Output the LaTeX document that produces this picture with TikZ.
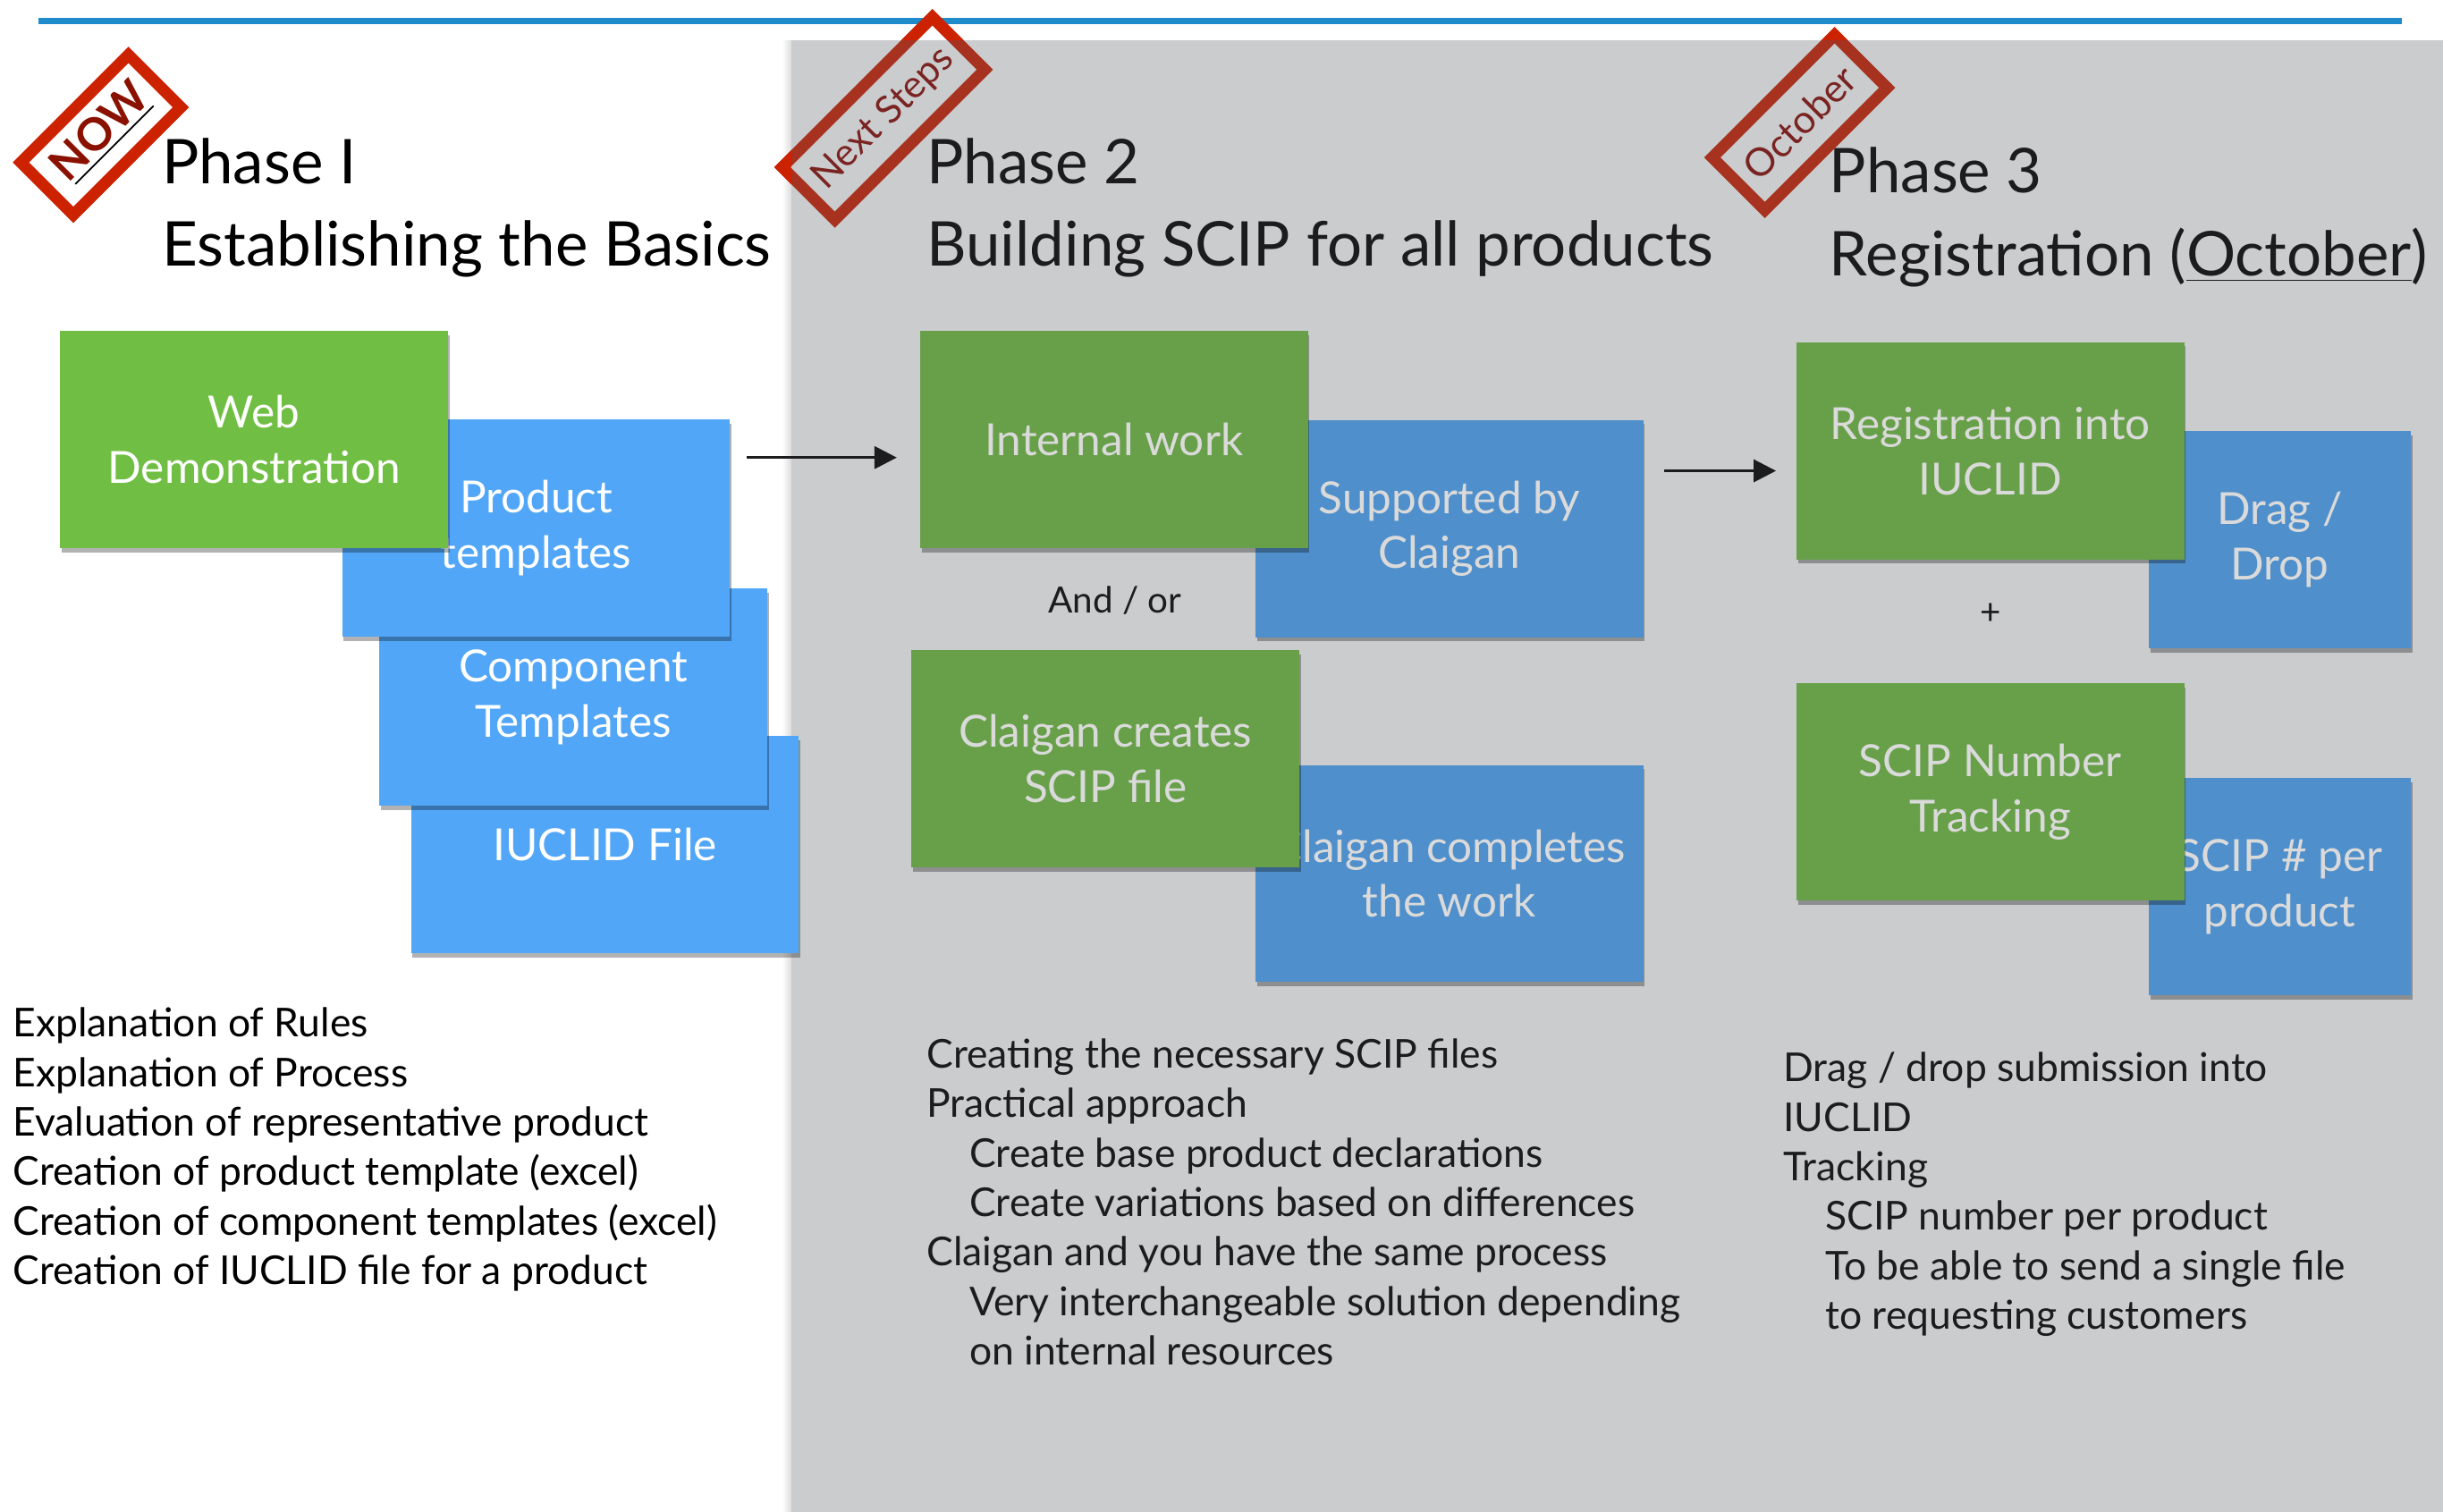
\documentclass[tikz,border=0pt]{standalone}
\usepackage{fontspec}
\setmainfont{Lato}
\usetikzlibrary{shadows,arrows.meta}
\definecolor{gA}{HTML}{70BF44}
\definecolor{bA}{HTML}{52A6F7}
\definecolor{gB}{HTML}{68A04A}
\definecolor{bB}{HTML}{4F8FCB}
\definecolor{panel}{HTML}{CBCCCE}
\definecolor{bar}{HTML}{1F8BCB}
\definecolor{stampred}{HTML}{CC2200}
\definecolor{stampdark}{HTML}{A6321F}
\definecolor{nowtext}{HTML}{8A1100}
\definecolor{stamptext}{HTML}{7A2422}
\definecolor{lighttxt}{HTML}{DADADA}
\definecolor{darktxt}{HTML}{1C1C1E}
\tikzset{
  boxbase/.style={rectangle, inner sep=0pt, minimum width=124.5pt, minimum height=69.7pt,
    align=center, font=\fontsize{14.2pt}{17.75pt}\selectfont,
    drop shadow={opacity=0.3, shadow xshift=0.5pt, shadow yshift=-1.3pt, fill=black}},
  greenA/.style={boxbase, fill=gA, text=white},
  blueA/.style={boxbase, fill=bA, text=white},
  greenB/.style={boxbase, fill=gB, text=lighttxt},
  blueB/.style={boxbase, fill=bB, text=lighttxt},
  titletxt/.style={anchor=base west, inner sep=0pt, font=\fontsize{19.8pt}{20pt}\selectfont},
  listtxt/.style={anchor=base west, inner sep=0pt, align=left, font=\fontsize{12.75pt}{15.9pt}\selectfont},
  smalltxt/.style={inner sep=0pt, font=\fontsize{11.6pt}{13pt}\selectfont, text=darktxt},
  stampbox/.style={rectangle, inner sep=0pt, line width=3.7pt, minimum height=23.8pt},
  arr/.style={line width=0.9pt, draw=darktxt, -{Triangle[length=7.2pt,width=7.2pt]}},
}
\begin{document}
\begin{tikzpicture}[x=0.5pt,y=-0.5pt]
\useasboundingbox (0,0) rectangle (1568,970);
\fill[white] (0,0) rectangle (1568,970);
% top bar
\draw[bar, line width=2.1pt] (24.7,13.6) -- (1541.8,13.6);
% grey panel
\shade[left color=white, right color=black!14] (502,26) rectangle (508,970);
\fill[panel] (508,25.8) rectangle (1570,972);

% ---------- Phase 1 ----------
\node[titletxt] (t1a) at (103.5,117.7) {Phase I};
\node[titletxt] (t1b) at (103.5,171) {Establishing the Basics};

\node[blueA] (iuc) at (388.25,542.3) {IUCLID File};
\node[blueA] (comp) at (367.9,447.6) {Component\\Templates};
\node[blueA] (prod) at (344.1,339.1) {Product\\templates};
\node[greenA] (web) at (163.05,282.15) {Web\\Demonstration};

% anchor base = baseline of the last line
\node[listtxt] (list1) at (8,824.6) {Explanation of Rules\\Explanation of Process\\Evaluation of representative product\\Creation of product template (excel)\\Creation of component templates (excel)\\Creation of IUCLID file for a product};

% ---------- Phase 2 ----------
\node[titletxt, text=darktxt] (t2a) at (594.5,117.7) {Phase 2};
\node[titletxt, text=darktxt] (t2b) at (594.5,171) {Building SCIP for all products};

\node[blueB] (supp) at (930.2,339.35) {Supported by\\Claigan};
\node[greenB] (intw) at (714.95,282.25) {Internal work};
\node[blueB] (compl) at (930.2,560.7) {Claigan completes\\the work};
\node[greenB] (crea) at (709.5,487.15) {Claigan creates\\SCIP file};
\node[smalltxt, anchor=base] (andor) at (715.7,393.6) {And / or};

\node[listtxt, text=darktxt] (list2) at (594.5,876.2) {Creating the necessary SCIP files\\Practical approach\\\hspace*{13.7pt}Create base product declarations\\\hspace*{13.7pt}Create variations based on differences\\Claigan and you have the same process\\\hspace*{13.7pt}Very interchangeable solution depending\\\hspace*{13.7pt}on internal resources};

% ---------- Phase 3 ----------
\node[titletxt, text=darktxt] (t3a) at (1173.8,123.4) {Phase 3};
\node[titletxt, text=darktxt] (t3b) at (1173.8,176.9) {Registration (\underline{October})};

\node[blueB, minimum width=84.05pt] (drag) at (1463.25,346.5) {Drag /\\Drop};
\node[greenB] (reg) at (1277.4,289.4) {Registration into\\IUCLID};
\node[blueB, minimum width=84.05pt] (sper) at (1463.25,569.2) {SCIP \# per\\product};
\node[greenB] (snum) at (1277.4,508.35) {SCIP Number\\Tracking};
\node[smalltxt] (plus) at (1277.8,394.2) {+};

\node[listtxt, text=darktxt] (list3) at (1144.3,853.3) {Drag / drop submission into\\IUCLID\\Tracking\\\hspace*{13.5pt}SCIP number per product\\\hspace*{13.5pt}To be able to send a single file\\\hspace*{13.5pt}to requesting customers};

% ---------- arrows ----------
\coordinate (a1s) at (479.2,293.7);
\coordinate (a1e) at (575.6,293.7);
\coordinate (a2s) at (1068,302.2);
\coordinate (a2e) at (1139.9,302.2);
\draw[arr] (a1s) -- (a1e);
\draw[arr] (a2s) -- (a2e);

% ---------- stamps ----------
\begin{scope}[shift={(64.75,86.5)}, rotate=45, transform shape]
  \node[stampbox, draw=stampred, minimum width=48.8pt] (nowstamp) at (0,0) {};
  \node[anchor=base, inner sep=0pt, text=nowtext, font=\bfseries\fontsize{14.5pt}{15pt}\selectfont] (nowlbl) at (1,7.5) {NOW};
  \coordinate (nu1) at (-34,10.8);
  \coordinate (nu2) at (37,10.8);
  \draw[black, line width=0.5pt] (nu1) -- (nu2);
\end{scope}

\begin{scope}[shift={(567.1,76)}, rotate=45, transform shape]
  \node[stampbox, draw=stampdark, minimum width=68.1pt] (nextstamp) at (0,0) {};
  \node[inner sep=0pt, text=stamptext, font=\fontsize{12.3pt}{12pt}\selectfont] (nextlbl) at (0,0) {Next Steps};
\end{scope}
\begin{scope}[shift={(1155.1,78.7)}, rotate=45, transform shape]
  \node[stampbox, draw=stampdark, minimum width=55.5pt] (octstamp) at (0,0) {};
  \node[inner sep=0pt, text=stamptext, font=\fontsize{12.5pt}{12pt}\selectfont] (octlbl) at (0,0) {October};
\end{scope}
\begin{scope}
  \clip (0,0) -- (1568,0) -- (1568,25.8) -- (508,25.8) -- (508,970) -- (0,970) -- cycle;
  \begin{scope}[shift={(567.1,76)}, rotate=45, transform shape]
    \node[stampbox, draw=stampred, minimum width=68.1pt] (nextstampb) at (0,0) {};
  \end{scope}
  \begin{scope}[shift={(1155.1,78.7)}, rotate=45, transform shape]
    \node[stampbox, draw=stampred, minimum width=55.5pt] (octstampb) at (0,0) {};
  \end{scope}
\end{scope}
\end{tikzpicture}
\end{document}
